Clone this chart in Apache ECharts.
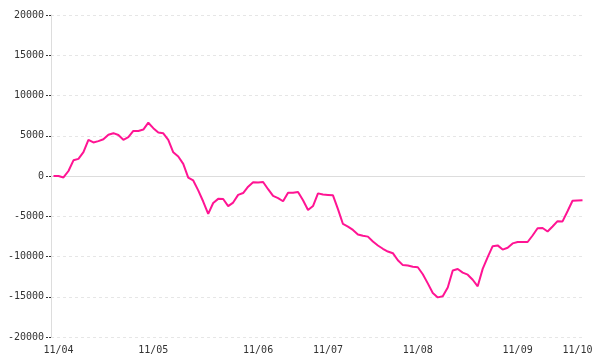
<!DOCTYPE html>
<html>
<head>
<meta charset="utf-8">
<script src="https://cdn.jsdelivr.net/npm/echarts@6/dist/echarts.min.js"></script>
<style>html,body{margin:0;padding:0;background:#fff;}#c{width:600px;height:360px;}</style>
</head>
<body>
<div id="c"></div>
<script>
// Series values, one per category (evenly spaced points)
const values = [
  0, 0, -180, 620, 1950, 2130, 2960, 4500, 4170, 4330,
  4560, 5130, 5320, 5090, 4500, 4830, 5600, 5600, 5770, 6620,
  5940, 5400, 5300, 4500, 2940, 2430, 1500, -200, -550, -1780,
  -3170, -4700, -3350, -2840, -2860, -3740, -3300, -2340, -2120, -1330,
  -770, -800, -750, -1640, -2470, -2740, -3140, -2070, -2080, -1990,
  -3020, -4230, -3730, -2160, -2310, -2350, -2400, -4120, -5960, -6280,
  -6700, -7260, -7430, -7530, -8140, -8630, -9040, -9380, -9590, -10470,
  -11070, -11130, -11280, -11340, -12200, -13340, -14540, -15080, -14940, -13860,
  -11740, -11560, -12010, -12260, -12890, -13700, -11540, -10070, -8720, -8620,
  -9140, -8920, -8370, -8200, -8200, -8200, -7390, -6490, -6460, -6900,
  -6280, -5610, -5640, -4380, -3080, -3030, -3000
];
// Tick labels on the x axis and the category index where each appears
const tickLabels = ['11/04', '11/05', '11/06', '11/07', '11/08', '11/09', '11/10'];
const tickIndex = [1, 20, 41, 55, 73, 93, 105];
// Y axis ticks
const yMin = -20000, yMax = 20000, yStep = 5000;

const categories = values.map(function (_, i) {
  const k = tickIndex.indexOf(i);
  return k >= 0 ? tickLabels[k] : '';
});

const chart = echarts.init(document.getElementById('c'), null, {renderer: 'canvas'});
const font = '"DejaVu Sans Mono", monospace';
chart.setOption({
  animation: false,
  backgroundColor: '#ffffff',
  grid: {left: 51, right: 15, top: 15, bottom: 23, containLabel: false},
  xAxis: {
    type: 'category',
    data: categories,
    boundaryGap: true,
    axisLine: {show: false},
    axisTick: {show: false},
    splitLine: {show: false},
    axisLabel: {
      interval: 0, margin: 8, color: '#333', fontFamily: font, fontSize: 10
    }
  },
  yAxis: {
    type: 'value',
    min: yMin, max: yMax, interval: yStep,
    axisLine: {show: true, lineStyle: {color: '#dddddd', width: 1}},
    axisTick: {show: true, length: 5, lineStyle: {color: '#333', type: [2, 1], width: 1}},
    axisLabel: {
      margin: 7, color: '#333', fontFamily: font, fontSize: 10,
      formatter: function (v) { return String(v); }
    },
    splitLine: {show: true, lineStyle: {color: '#e6e6e6', type: [3, 3], width: 1}}
  },
  series: [{
    type: 'line',
    data: values,
    showSymbol: false,
    symbol: 'none',
    lineStyle: {color: '#ff1493', width: 2},
    itemStyle: {color: '#ff1493'},
    z: 3,
    markLine: {
      silent: true,
      symbol: 'none',
      label: {show: false},
      lineStyle: {color: '#dddddd', type: 'solid', width: 1},
      data: [{yAxis: 0}],
      z: 1
    }
  }]
});
</script>
</body>
</html>
